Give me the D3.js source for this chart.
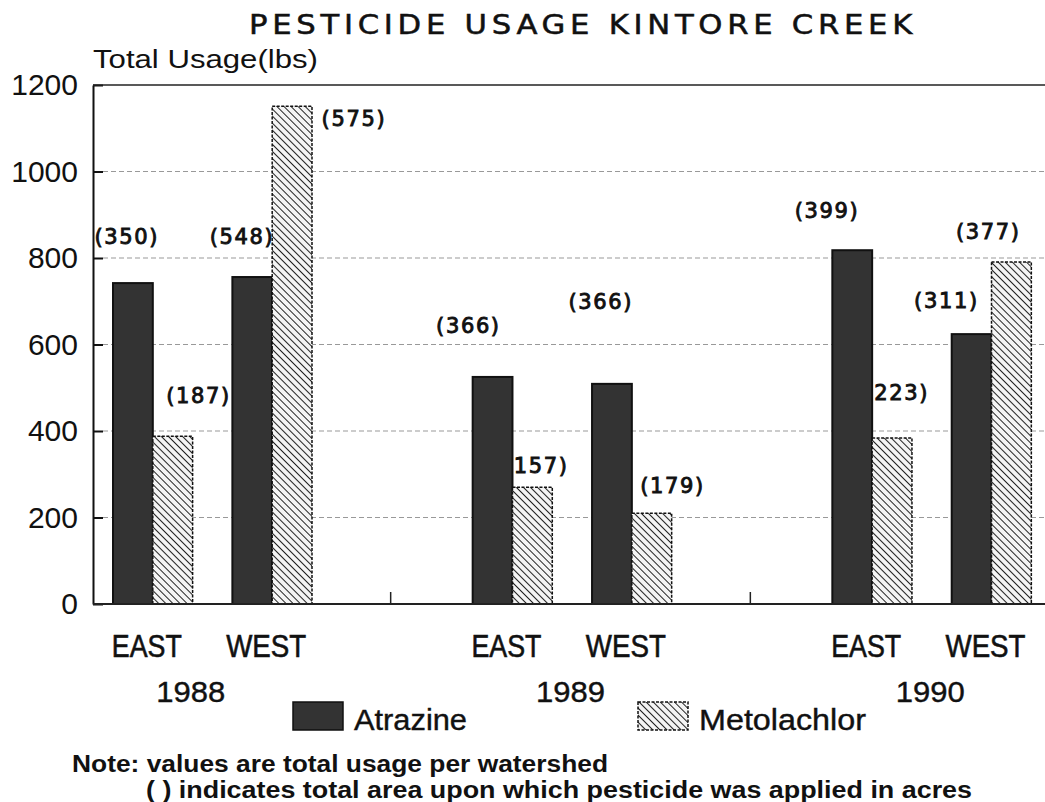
<!DOCTYPE html>
<html>
<head>
<meta charset="utf-8">
<script src="https://cdn.jsdelivr.net/npm/d3@7"></script>
<style>
  body { margin: 0; background: #fff; }
  text { fill: #111; }
</style>
</head>
<body>
<div id="chart"></div>
<script>
// chart values
var years = ['1988', '1989', '1990'];
var sites = ['EAST', 'WEST'];
var seriesNames = ['Atrazine', 'Metolachlor'];
var atrazine    = [742, 756, 525, 509, 818, 624];   // lbs, EAST/WEST per year
var metolachlor = [388, 1151, 270, 210, 384, 791];
var atrazineAcres    = ['(350)', '(548)', '(366)', '(366)', '(399)', '(311)'];
var metolachlorAcres = ['(187)', '(575)', '(157)', '(179)', '(223)', '(377)'];
var yTicks = [0, 200, 400, 600, 800, 1000, 1200];

var WIDTH = 1045, HEIGHT = 802;
var PLOT_LEFT = 93, PLOT_RIGHT = 1045, PLOT_TOP = 85, PLOT_BOTTOM = 604;

var svg = d3.select('#chart')
            .append('svg')
            .attr('width', WIDTH)
            .attr('height', HEIGHT);

// hatch for metolachlor
var defs = svg.append('defs');
defs.append('pattern')
    .attr('id', 'hatch')
    .attr('patternUnits', 'userSpaceOnUse')
    .attr('width', 5)
    .attr('height', 5)
    .attr('patternTransform', 'rotate(-45)')
    .call(function(p) {
        p.append('rect').attr('width', 5).attr('height', 5).attr('fill', '#f4f4f4');
        p.append('line').attr('x1', 0).attr('y1', 0).attr('x2', 0).attr('y2', 5)
         .attr('stroke', '#222').attr('stroke-width', 2);
    });

// scales
var y = d3.scaleLinear().domain([0, 1200]).range([PLOT_BOTTOM, PLOT_TOP]);
var xYear = d3.scaleBand().domain(years).range([31, 1110]);
var xSite = d3.scaleBand().domain(sites).range([82, 281]).paddingInner(0.333);
var xSeries = d3.scaleBand().domain(seriesNames).range([0, xSite.bandwidth()]);

// flatten into one record per bar
var bars = [];
years.forEach(function(yr, yi) {
    sites.forEach(function(site, si) {
        var k = yi * sites.length + si;
        bars.push({ year: yr, site: site, series: 'Atrazine', value: atrazine[k], acres: atrazineAcres[k], k: k });
        bars.push({ year: yr, site: site, series: 'Metolachlor', value: metolachlor[k], acres: metolachlorAcres[k], k: k });
    });
});
function barX(d) { return xYear(d.year) + xSite(d.site) + xSeries(d.series); }

// gridlines (dashed, behind everything)
svg.append('g')
    .selectAll('line')
    .data(yTicks.filter(function(t) { return t > 0 && t < 1200; }))
    .enter()
    .append('line')
    .attr('x1', PLOT_LEFT + 10)
    .attr('x2', PLOT_RIGHT)
    .attr('y1', function(d) { return y(d); })
    .attr('y2', function(d) { return y(d); })
    .attr('stroke', '#999')
    .attr('stroke-width', 1.2)
    .attr('stroke-dasharray', '5,3');

// acreage labels -- drawn before bars so bars hide stray parens like in the scan
// nudges relative to bar centre / bar top
var labelNudge = {
    Atrazine:    [[-7, -47], [-11, -41], [-25, -51], [-12, -82], [-26, -40], [-26, -34]],
    Metolachlor: [[25, -41], [61, 12], [3, -22], [20, -28], [4, -45], [-24, -30]]
};
svg.append('g')
    .selectAll('text')
    .data(bars)
    .enter()
    .append('text')
    .attr('x', function(d) { return barX(d) + xSeries.bandwidth() / 2 + labelNudge[d.series][d.k][0]; })
    .attr('y', function(d) { return y(d.value) + labelNudge[d.series][d.k][1]; })
    .attr('dy', '0.36em')
    .attr('text-anchor', 'middle')
    .attr('font-family', 'DejaVu Sans')
    .attr('font-size', 21)
    .attr('stroke', '#111')
    .attr('stroke-width', 0.9)
    .attr('textLength', 63)
    .attr('lengthAdjust', 'spacing')
    .text(function(d) { return d.acres; });

// bars
svg.append('g')
    .selectAll('rect')
    .data(bars)
    .enter()
    .append('rect')
    .attr('x', barX)
    .attr('y', function(d) { return y(d.value); })
    .attr('width', xSeries.bandwidth())
    .attr('height', function(d) { return y(0) - y(d.value); })
    .attr('fill', function(d) { return d.series === 'Atrazine' ? '#333' : 'url(#hatch)'; })
    .attr('stroke', '#111')
    .attr('stroke-width', function(d) { return d.series === 'Atrazine' ? 2 : 1.5; })
    .attr('stroke-dasharray', function(d) { return d.series === 'Atrazine' ? null : '3,1.5'; });

// y axis with inward ticks
var yAxis = d3.axisLeft(y)
    .tickValues(yTicks)
    .tickFormat(d3.format('d'))
    .tickSizeInner(-10)
    .tickSizeOuter(0)
    .tickPadding(15);
var yG = svg.append('g')
    .attr('transform', 'translate(' + PLOT_LEFT + ',0)')
    .call(yAxis);
yG.select('.domain').attr('stroke', '#111').attr('stroke-width', 2);
yG.selectAll('.tick line').attr('stroke', '#111').attr('stroke-width', 2);
yG.selectAll('.tick text')
    .attr('font-family', 'Liberation Sans, Arial, sans-serif')
    .attr('font-size', 30)
    .attr('fill', '#111');

// frame top and x baseline
svg.append('line')
    .attr('x1', PLOT_LEFT).attr('x2', PLOT_RIGHT)
    .attr('y1', y(1200)).attr('y2', y(1200))
    .attr('stroke', '#222').attr('stroke-width', 1.5);
svg.append('line')
    .attr('x1', PLOT_LEFT).attr('x2', PLOT_RIGHT)
    .attr('y1', y(0)).attr('y2', y(0))
    .attr('stroke', '#222').attr('stroke-width', 2);

// year separators on the baseline
svg.append('g')
    .selectAll('line')
    .data(years.slice(0, -1))
    .enter()
    .append('line')
    .attr('x1', function(d) { return xYear(d) + xYear.bandwidth(); })
    .attr('x2', function(d) { return xYear(d) + xYear.bandwidth(); })
    .attr('y1', y(0) - 12)
    .attr('y2', y(0))
    .attr('stroke', '#222')
    .attr('stroke-width', 1.5);

// site labels
var siteLabels = [];
years.forEach(function(yr) { sites.forEach(function(s) { siteLabels.push({ year: yr, site: s }); }); });
svg.append('g')
    .selectAll('text')
    .data(siteLabels)
    .enter()
    .append('text')
    .attr('x', function(d) { return xYear(d.year) + xSite(d.site) + xSite.bandwidth() / 2 - 6; })
    .attr('y', 657)
    .attr('text-anchor', 'middle')
    .attr('font-family', 'Liberation Sans Narrow, Liberation Sans, sans-serif')
    .attr('font-size', 31)
    .attr('stroke', '#111')
    .attr('stroke-width', 0.6)
    .attr('textLength', function(d) { return d.site === 'EAST' ? 70 : 80; })
    .attr('lengthAdjust', 'spacingAndGlyphs')
    .text(function(d) { return d.site; });

// year labels
svg.append('g')
    .selectAll('text')
    .data(years)
    .enter()
    .append('text')
    .attr('x', function(d, i) { return xYear(d) + xYear.bandwidth() / 2 + (i === 0 ? -20 : 0); })
    .attr('y', 702)
    .attr('text-anchor', 'middle')
    .attr('font-family', 'Liberation Sans Narrow, Liberation Sans, sans-serif')
    .attr('font-size', 30)
    .attr('stroke', '#111')
    .attr('stroke-width', 0.4)
    .attr('textLength', 69)
    .attr('lengthAdjust', 'spacingAndGlyphs')
    .text(function(d) { return d; });

// legend
var legend = svg.append('g');
var legendItems = [
    { name: seriesNames[0], x: 293, fill: '#333', dash: null, w: 113 },
    { name: seriesNames[1], x: 638, fill: 'url(#hatch)', dash: '3,1.5', w: 167 }
];
legend.selectAll('rect')
    .data(legendItems)
    .enter()
    .append('rect')
    .attr('x', function(d) { return d.x; })
    .attr('y', 702)
    .attr('width', 50)
    .attr('height', 28)
    .attr('fill', function(d) { return d.fill; })
    .attr('stroke', '#111')
    .attr('stroke-width', 1.5)
    .attr('stroke-dasharray', function(d) { return d.dash; });
legend.selectAll('text')
    .data(legendItems)
    .enter()
    .append('text')
    .attr('x', function(d) { return d.x + 61; })
    .attr('y', 730)
    .attr('font-family', 'Liberation Sans Narrow, Liberation Sans, sans-serif')
    .attr('font-size', 30)
    .attr('stroke', '#111')
    .attr('stroke-width', 0.4)
    .attr('textLength', function(d) { return d.w; })
    .attr('lengthAdjust', 'spacingAndGlyphs')
    .text(function(d) { return d.name; });

// title and y label
svg.append('text')
    .attr('x', 583).attr('y', 34)
    .attr('text-anchor', 'middle')
    .attr('font-family', 'DejaVu Sans, sans-serif')
    .attr('font-size', 26)
    .attr('letter-spacing', 4)
    .attr('stroke', '#111')
    .attr('stroke-width', 0.5)
    .attr('textLength', 668)
    .attr('lengthAdjust', 'spacingAndGlyphs')
    .text('PESTICIDE USAGE KINTORE CREEK');
svg.append('text')
    .attr('x', 93).attr('y', 68)
    .attr('font-family', 'Liberation Sans, Arial, sans-serif')
    .attr('font-size', 25)
    .attr('textLength', 225)
    .attr('lengthAdjust', 'spacingAndGlyphs')
    .text('Total Usage(lbs)');

// notes
svg.append('text')
    .attr('x', 72).attr('y', 772)
    .attr('font-family', 'Liberation Sans Narrow, Liberation Sans, sans-serif')
    .attr('font-weight', 'bold')
    .attr('font-size', 23)
    .attr('textLength', 536)
    .attr('lengthAdjust', 'spacingAndGlyphs')
    .text('Note: values are total usage per watershed');
svg.append('text')
    .attr('x', 146).attr('y', 798)
    .attr('font-family', 'Liberation Sans Narrow, Liberation Sans, sans-serif')
    .attr('font-weight', 'bold')
    .attr('font-size', 23)
    .attr('textLength', 826)
    .attr('lengthAdjust', 'spacingAndGlyphs')
    .text('( ) indicates total area upon which pesticide was applied in acres');
</script>
</body>
</html>
